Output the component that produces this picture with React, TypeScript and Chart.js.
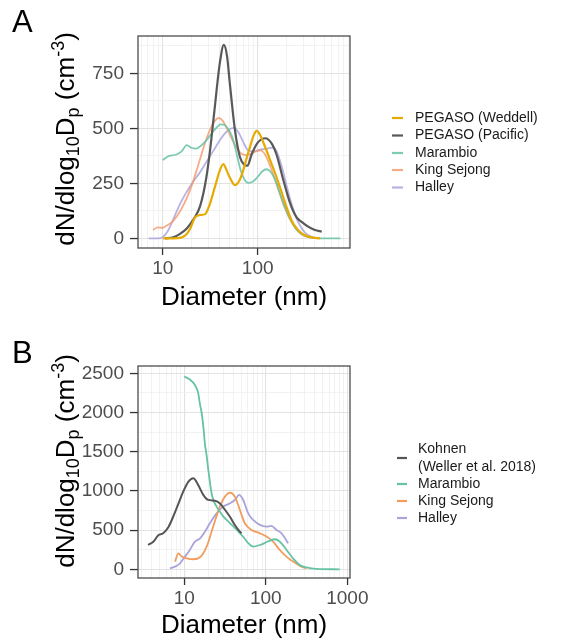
import { useEffect, useRef } from 'react';
import { Chart, registerables } from 'chart.js';

Chart.register(...registerables);

const FONT = '"Liberation Sans", Arial, Helvetica, sans-serif';

// ---------------- Panel A data ----------------
const weddellD = [10.1, 13.0, 15.2, 17.5, 19.5, 21.9, 24.7, 28.0, 31.0, 35.5, 40.0, 43.5, 47.0, 51.0, 57.6, 64.0, 70.5, 77.0, 83.0, 90.0, 97.5, 106, 116, 130, 145, 160, 180, 202, 228, 257, 290, 328, 380, 453];
const weddellN = [0, 0, 2, 15, 45, 95, 106, 110, 150, 235, 310, 338, 310, 275, 242, 262, 310, 370, 416, 465, 489, 470, 430, 375, 320, 270, 205, 140, 80, 45, 22, 10, 3, 0];

const pacificD = [10.6, 12.9, 15.2, 17.9, 21.0, 24.7, 28.5, 31.5, 35.0, 40.0, 44.0, 47.5, 51.0, 57.7, 65.0, 72.0, 78.0, 86.0, 100, 120, 140, 158, 186, 219, 257, 290, 340, 400, 472];
const pacificN = [0, 5, 20, 45, 85, 145, 265, 400, 580, 800, 880, 830, 700, 490, 370, 335, 330, 380, 435, 455, 432, 380, 265, 160, 95, 75, 53, 38, 30];

const marambioAD = [10.0, 11.7, 13.8, 15.8, 17.9, 20.0, 22.4, 25.1, 28.8, 33.1, 37.2, 40.7, 44.7, 50.1, 55.0, 60.3, 66.1, 72.4, 79.4, 89.1, 100, 112, 123, 135, 151, 170, 190, 219, 251, 288, 339, 417, 501, 741];
const marambioAN = [356, 375, 380, 395, 424, 412, 408, 420, 445, 480, 505, 518, 515, 490, 450, 380, 310, 268, 252, 258, 280, 305, 314, 305, 270, 210, 150, 90, 45, 20, 6, 1, 0, 0];

const kingSejongAD = [7.9, 8.9, 10, 11.2, 12.6, 14.1, 15.8, 17.8, 20, 22.4, 25.1, 28.2, 31.6, 35.5, 38.9, 42.7, 47.9, 53.7, 60.3, 67.6, 75.9, 85.1, 95.5, 107, 120, 135, 151, 170, 190, 219, 251, 288, 339, 417];
const kingSejongAN = [38, 50, 48, 60, 75, 100, 135, 180, 235, 300, 370, 440, 495, 535, 548, 535, 495, 450, 410, 385, 378, 385, 395, 400, 380, 330, 270, 205, 145, 85, 45, 20, 6, 0];

const halleyAD = [7.1, 8.9, 10, 11.2, 12.6, 14.1, 15.8, 17.8, 20, 22.4, 25.1, 28.2, 31.6, 35.5, 39.8, 44.7, 50.1, 56.2, 63.1, 70.8, 79.4, 89.1, 100, 112, 126, 141, 158, 178, 200, 224, 251, 282, 316, 363, 417];
const halleyAN = [0, 0, 5, 30, 75, 125, 170, 210, 245, 275, 305, 340, 375, 410, 445, 475, 495, 502, 480, 435, 400, 395, 400, 405, 408, 412, 395, 330, 245, 165, 100, 55, 25, 8, 0];

// ---------------- Panel B data ----------------
const kohnenD = [3.6, 4.2, 4.8, 5.5, 6.4, 7.3, 8.5, 9.7, 11.2, 12.9, 14.8, 17.1, 19.7, 23.8, 27.4, 31.5, 36.3, 41.7, 48.1, 50.4];
const kohnenN = [310, 355, 435, 460, 540, 670, 840, 990, 1115, 1160, 1075, 950, 885, 875, 840, 760, 670, 565, 480, 460];

const marambioBD = [10.0, 11.7, 13.5, 14.8, 15.6, 16.3, 17.2, 17.9, 18.8, 19.7, 20.7, 21.6, 23.0, 24.9, 27.5, 30.0, 36.3, 43.8, 52.8, 60.8, 70.0, 84.5, 107, 129, 148, 179, 216, 261, 315, 417, 805];
const marambioBN = [2460, 2420, 2350, 2250, 2100, 2000, 1800, 1600, 1450, 1270, 1100, 970, 870, 800, 730, 675, 590, 505, 415, 335, 290, 310, 355, 383, 355, 250, 140, 55, 25, 5, 0];

const kingSejongBD = [7.7, 8.45, 9.3, 10.7, 12.9, 15.6, 18.8, 22.6, 27.3, 31.5, 36.3, 41.7, 48.1, 55.3, 66.7, 84.5, 102, 123, 148, 179, 216, 273, 315];
const kingSejongBN = [98, 204, 162, 140, 128, 153, 289, 544, 799, 927, 978, 927, 757, 587, 502, 459, 417, 353, 247, 162, 98, 34, 13];

const halleyBD = [6.67, 7.7, 8.85, 10.2, 11.7, 13.5, 15.6, 17.9, 20.6, 24.9, 30, 36.3, 41.7, 47.1, 52.8, 60.8, 70, 84.5, 102, 117, 135, 156, 188];
const halleyBN = [13, 34, 77, 162, 247, 353, 395, 480, 587, 714, 799, 842, 884, 948, 884, 714, 629, 566, 544, 553, 502, 459, 332];

// ---------------- Axis ticks ----------------
const aXTicks = [6, 7, 8, 9, 10, 20, 30, 40, 50, 60, 70, 80, 90, 100, 200, 300, 400, 500, 600, 700, 800, 900];
const aXLabels = [10, 100];
const aYTicks = [0, 125, 250, 375, 500, 625, 750, 875];
const aYLabels = [0, 250, 500, 750];

const bXTicks = [3, 4, 5, 6, 7, 8, 9, 10, 20, 30, 40, 50, 60, 70, 80, 90, 100, 200, 300, 400, 500, 600, 700, 800, 900, 1000];
const bXLabels = [10, 100, 1000];
const bYTicks = [0, 250, 500, 750, 1000, 1250, 1500, 1750, 2000, 2250, 2500];
const bYLabels = [0, 500, 1000, 1500, 2000, 2500];

type Series = { label: string[]; d: number[]; n: number[]; color: string; width: number };

const seriesA: Series[] = [
  { label: ['PEGASO (Weddell)'], d: weddellD, n: weddellN, color: '#E6AB02', width: 2.2 },
  { label: ['PEGASO (Pacific)'], d: pacificD, n: pacificN, color: '#595959', width: 2.2 },
  { label: ['Marambio'], d: marambioAD, n: marambioAN, color: 'rgba(102,194,165,0.85)', width: 1.8 },
  { label: ['King Sejong'], d: kingSejongAD, n: kingSejongAN, color: 'rgba(245,150,105,0.8)', width: 1.8 },
  { label: ['Halley'], d: halleyAD, n: halleyAN, color: 'rgba(170,165,220,0.85)', width: 1.8 },
];

const seriesB: Series[] = [
  { label: ['Kohnen', '(Weller et al. 2018)'], d: kohnenD, n: kohnenN, color: '#555555', width: 2.0 },
  { label: ['Marambio'], d: marambioBD, n: marambioBN, color: '#66C2A5', width: 1.8 },
  { label: ['King Sejong'], d: kingSejongBD, n: kingSejongBN, color: '#F29D5E', width: 1.8 },
  { label: ['Halley'], d: halleyBD, n: halleyBN, color: '#A9A4DA', width: 1.8 },
];

type Panel = {
  letter: string;
  letterY: number;
  series: Series[];
  top: number; bottom: number; left: number; right: number;
  xMin: number; xMax: number; yMin: number; yMax: number;
  xTicks: number[]; xLabels: number[]; yTicks: number[]; yLabels: number[];
  yTitleX: number; yTitleCY: number; xTitleY: number;
  legendKeyX: [number, number]; legendTextX: number; legendRows: number[]; legendKeyY: number[];
};

const W = 564;
const H = 644;

const panelA: Panel = {
  letter: 'A', letterY: 31.5, series: seriesA,
  top: 36, bottom: 248, left: 138, right: 350,
  xMin: 5.495, xMax: 936, yMin: -44, yMax: 920,
  xTicks: aXTicks, xLabels: aXLabels, yTicks: aYTicks, yLabels: aYLabels,
  yTitleX: 74, yTitleCY: 139, xTitleY: 305,
  legendKeyX: [392, 403], legendTextX: 415,
  legendRows: [118, 135.5, 153, 170, 187.5], legendKeyY: [118, 135.5, 153, 170, 187.5],
};

const panelB: Panel = {
  letter: 'B', letterY: 362.5, series: seriesB,
  top: 366, bottom: 578, left: 138, right: 350,
  xMin: 2.704, xMax: 1079, yMin: -111, yMax: 2593,
  xTicks: bXTicks, xLabels: bXLabels, yTicks: bYTicks, yLabels: bYLabels,
  yTitleX: 74, yTitleCY: 461, xTitleY: 633,
  legendKeyX: [397, 407], legendTextX: 418,
  legendRows: [449, 467, 484, 501, 518], legendKeyY: [458, 484, 501, 518],
};

function drawYTitle(ctx: CanvasRenderingContext2D, x: number, cy: number) {
  const big = 26;
  const small = 18;
  const parts = [
    { t: 'dN/dlog', s: big, dy: 0 },
    { t: '10', s: small, dy: 5 },
    { t: 'D', s: big, dy: 0 },
    { t: 'p', s: small, dy: 5 },
    { t: ' (cm', s: big, dy: 0 },
    { t: '-3', s: small, dy: -10.5 },
    { t: ')', s: big, dy: 0 },
  ];
  let total = 0;
  const widths = parts.map((p) => {
    ctx.font = `${p.s}px ${FONT}`;
    const w = ctx.measureText(p.t).width;
    total += w;
    return w;
  });
  ctx.save();
  ctx.translate(x, cy);
  ctx.rotate(-Math.PI / 2);
  ctx.fillStyle = '#000';
  ctx.textAlign = 'left';
  ctx.textBaseline = 'alphabetic';
  let u = -total / 2;
  parts.forEach((p, i) => {
    ctx.font = `${p.s}px ${FONT}`;
    ctx.fillText(p.t, u, p.dy);
    u += widths[i];
  });
  ctx.restore();
}

function decorPlugin(p: Panel) {
  return {
    id: 'decor' + p.letter,
    afterDatasetsDraw(chart: any) {
      const { ctx, chartArea } = chart;
      ctx.save();
      ctx.strokeStyle = '#4d4d4d';
      ctx.lineWidth = 1.3;
      ctx.strokeRect(chartArea.left, chartArea.top, chartArea.right - chartArea.left, chartArea.bottom - chartArea.top);
      ctx.restore();
    },
    afterDraw(chart: any) {
      const { ctx, chartArea } = chart;
      ctx.save();
      // panel letter
      ctx.fillStyle = '#000';
      ctx.font = `31px ${FONT}`;
      ctx.textAlign = 'left';
      ctx.textBaseline = 'alphabetic';
      ctx.fillText(p.letter, 12, p.letterY);
      // x title
      ctx.font = `26px ${FONT}`;
      ctx.textAlign = 'center';
      ctx.fillText('Diameter (nm)', (chartArea.left + chartArea.right) / 2, p.xTitleY);
      // y title
      drawYTitle(ctx, p.yTitleX, p.yTitleCY);
      // legend
      ctx.font = `14px ${FONT}`;
      ctx.textAlign = 'left';
      ctx.textBaseline = 'middle';
      let row = 0;
      p.series.forEach((s, i) => {
        ctx.strokeStyle = s.color;
        ctx.lineWidth = 2.2;
        ctx.beginPath();
        ctx.moveTo(p.legendKeyX[0], p.legendKeyY[i]);
        ctx.lineTo(p.legendKeyX[1], p.legendKeyY[i]);
        ctx.stroke();
        ctx.fillStyle = '#1a1a1a';
        s.label.forEach((line) => {
          ctx.fillText(line, p.legendTextX, p.legendRows[row]);
          row += 1;
        });
      });
      ctx.restore();
    },
  };
}

function makeChart(canvas: HTMLCanvasElement, p: Panel) {
  const isMajorX = (v: number) => p.xLabels.includes(v);
  const isMajorY = (v: number) => p.yLabels.includes(v);
  return new Chart(canvas, {
    type: 'line',
    data: {
      datasets: p.series.map((s) => ({
        label: s.label.join(' '),
        data: s.d.map((x, i) => ({ x, y: s.n[i] })),
        borderColor: s.color,
        backgroundColor: s.color,
        borderWidth: s.width,
        pointRadius: 0,
        fill: false,
        cubicInterpolationMode: 'monotone',
      })),
    },
    options: {
      responsive: false,
      animation: false,
      events: [],
      layout: { padding: { left: 0, top: p.top, right: W - p.right, bottom: 0 } },
      plugins: { legend: { display: false }, tooltip: { enabled: false } },
      scales: {
        x: {
          type: 'logarithmic',
          min: p.xMin,
          max: p.xMax,
          afterBuildTicks: (scale: any) => {
            scale.ticks = p.xTicks.map((v) => ({ value: v }));
          },
          afterFit: (scale: any) => {
            scale.height = H - p.bottom;
          },
          border: { display: false },
          grid: {
            color: (c: any) => (isMajorX(c.tick?.value) ? '#e2e2e2' : '#efefef'),
            lineWidth: (c: any) => (isMajorX(c.tick?.value) ? 1.1 : 0.8),
            tickColor: (c: any) => (isMajorX(c.tick?.value) ? '#333333' : 'rgba(0,0,0,0)'),
            tickLength: 7,
            tickWidth: 1.3,
          },
          ticks: {
            autoSkip: false,
            maxRotation: 0,
            minRotation: 0,
            padding: 2,
            color: '#4d4d4d',
            font: { family: FONT, size: 19 },
            callback: (v: any) => (isMajorX(Number(v)) ? String(v) : ''),
          },
        },
        y: {
          type: 'linear',
          min: p.yMin,
          max: p.yMax,
          afterBuildTicks: (scale: any) => {
            scale.ticks = p.yTicks.map((v) => ({ value: v }));
          },
          afterFit: (scale: any) => {
            scale.width = p.left;
          },
          border: { display: false },
          grid: {
            color: (c: any) => (isMajorY(c.tick?.value) ? '#e2e2e2' : '#efefef'),
            lineWidth: (c: any) => (isMajorY(c.tick?.value) ? 1.1 : 0.8),
            tickColor: (c: any) => (isMajorY(c.tick?.value) ? '#333333' : 'rgba(0,0,0,0)'),
            tickLength: 8,
            tickWidth: 1.3,
          },
          ticks: {
            autoSkip: false,
            padding: 6,
            color: '#4d4d4d',
            font: { family: FONT, size: 19 },
            callback: (v: any) => (isMajorY(Number(v)) ? String(v) : ''),
          },
        },
      },
    },
    plugins: [decorPlugin(p)],
  } as any);
}

export default function App() {
  const refA = useRef<HTMLCanvasElement>(null);
  const refB = useRef<HTMLCanvasElement>(null);
  useEffect(() => {
    const a = makeChart(refA.current!, panelA);
    const b = makeChart(refB.current!, panelB);
    return () => {
      a.destroy();
      b.destroy();
    };
  }, []);
  const cs: any = { position: 'absolute', left: 0, top: 0, width: W, height: H };
  return (
    <div style={{ position: 'absolute', left: 0, top: 0, width: W, height: H, background: '#fff', overflow: 'hidden' }}>
      <canvas ref={refA} width={W} height={H} style={cs} />
      <canvas ref={refB} width={W} height={H} style={cs} />
    </div>
  );
}
